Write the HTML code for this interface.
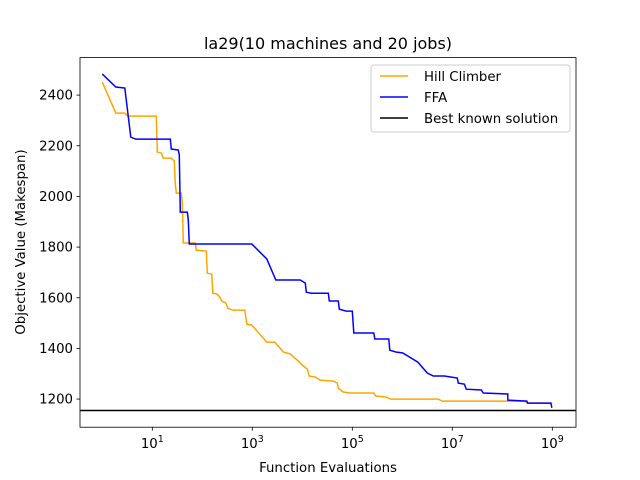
<!DOCTYPE html>
<html><head><meta charset="utf-8"><style>
body{margin:0;background:#fff;}
svg{display:block;font-family:"DejaVu Sans","Liberation Sans",sans-serif;}
</style></head><body>
<svg id="chart" width="640" height="480" xmlns="http://www.w3.org/2000/svg">
<rect width="640" height="480" fill="#fff"/>
<text x="328" y="49" text-anchor="middle" font-size="16">la29(10 machines and 20 jobs)</text>
<g id="plot"></g>
<text x="328" y="472" text-anchor="middle" font-size="13.3">Function Evaluations</text>
<text transform="translate(25,242) rotate(-90)" text-anchor="middle" font-size="13.3">Objective Value (Makespan)</text>
<g>
<rect x="371" y="65" width="199" height="67" rx="3" fill="#fff" fill-opacity="0.8" stroke="#ccc"/>
<g><line x1="380" y1="76" x2="408" y2="76" stroke="orange" stroke-width="1.5"/><text x="424" y="81" font-size="13.3">Hill Climber</text></g>
<g><line x1="380" y1="97" x2="408" y2="97" stroke="blue" stroke-width="1.5"/><text x="424" y="102" font-size="13.3">FFA</text></g>
<g><line x1="380" y1="118" x2="408" y2="118" stroke="black" stroke-width="1.5"/><text x="424" y="123" font-size="13.3">Best known solution</text></g>
</g>
</svg>
<script>
const hcLogEvals=[0,0.27,0.45,0.51,1.08,1.10,1.18,1.22,1.38,1.44,1.46,1.48,1.58,1.60,1.62,1.86,1.88,2.08,2.10,2.19,2.21,2.29,2.35,2.39,2.47,2.51,2.61,2.85,2.89,2.99,3.29,3.45,3.62,3.76,3.92,4.00,4.10,4.14,4.26,4.36,4.62,4.70,4.72,4.82,4.96,5.43,5.47,5.67,5.77,6.72,6.80,8.45,8.49,9.0];
const hcValues=[2451,2329,2329,2317,2317,2175,2171,2151,2151,2140,2049,2013,2013,1974,1816,1816,1788,1784,1697,1693,1618,1615,1603,1587,1579,1559,1551,1551,1496,1492,1425,1425,1386,1378,1350,1334,1318,1291,1287,1275,1271,1263,1243,1228,1224,1224,1212,1208,1200,1200,1192,1192,1184,1184];
const ffaLogEvals=[0,0.27,0.45,0.57,0.67,1.36,1.38,1.52,1.54,1.56,1.70,1.72,1.74,2.99,3.29,3.47,3.96,4.06,4.08,4.18,4.52,4.54,4.72,4.74,4.88,5.00,5.03,5.43,5.45,5.73,5.75,5.87,6.01,6.31,6.50,6.62,6.84,7.10,7.12,7.24,7.28,7.58,7.62,8.11,8.11,8.49,8.51,8.97,8.99,9.0];
const ffaValues=[2483,2432,2428,2234,2226,2226,2187,2183,2163,1938,1938,1907,1812,1812,1753,1670,1670,1658,1622,1618,1618,1587,1587,1555,1547,1547,1461,1461,1437,1437,1393,1386,1382,1346,1303,1291,1291,1283,1263,1259,1239,1236,1224,1220,1196,1192,1184,1184,1168,1168];
const bestKnown=1155;
const xTickExps=[1,3,5,7,9];
const yTicks=[1200,1400,1600,1800,2000,2200,2400];

const L=80,R=576,T=57.6,B=427.2;
const xMin=-0.446,xMax=9.474,yMin=1089,yMax=2548;
const sx=e=>L+(e-xMin)/(xMax-xMin)*(R-L);
const sy=v=>B-(v-yMin)/(yMax-yMin)*(B-T);
const NS="http://www.w3.org/2000/svg";
const g=document.getElementById('plot');
function mk(tag,attrs,parent){const el=document.createElementNS(NS,tag);for(const k in attrs)el.setAttribute(k,attrs[k]);(parent||g).appendChild(el);return el;}

const clip=mk('clipPath',{id:'clip'});mk('rect',{x:L,y:T,width:R-L,height:B-T},clip);

yTicks.forEach(v=>{
  const y=sy(v);
  const t=mk('line',{x1:L-3.5,y1:y,x2:L,y2:y,stroke:'#000','stroke-width':0.8});
  
  
  const lb=mk('text',{x:L-7,y:y+4.5,'text-anchor':'end','font-size':13.3});
  
  
  lb.textContent=v;
});
xTickExps.forEach(e=>{
  const x=sx(e);
  const t=mk('line',{x1:x,y1:B,x2:x,y2:B+3.5,stroke:'#000','stroke-width':0.8});
  
  
  const lb=mk('text',{x:x,y:B+21,'text-anchor':'middle','font-size':13.3});
  
  
  lb.textContent='10';
  const sup=mk('tspan',{dy:-6,'font-size':9.5},lb);sup.textContent=e;
});

function series(xs,ys,color,name){
  const d=xs.map((e,i)=>(i?'L':'M')+sx(e).toFixed(2)+','+sy(ys[i]).toFixed(2)).join(' ');
  const p=mk('path',{d:d,fill:'none',stroke:color,'stroke-width':1.5,'clip-path':'url(#clip)'});
  
  
}
series(hcLogEvals,hcValues,'orange','hill-climber-line');
series(ffaLogEvals,ffaValues,'blue','ffa-line');
const bl=mk('line',{x1:L,y1:sy(bestKnown),x2:R,y2:sy(bestKnown),stroke:'#000','stroke-width':1.5});


const frame=mk('rect',{x:L,y:T,width:R-L,height:B-T,fill:'none',stroke:'#000','stroke-width':0.8});


</script>
</body></html>
